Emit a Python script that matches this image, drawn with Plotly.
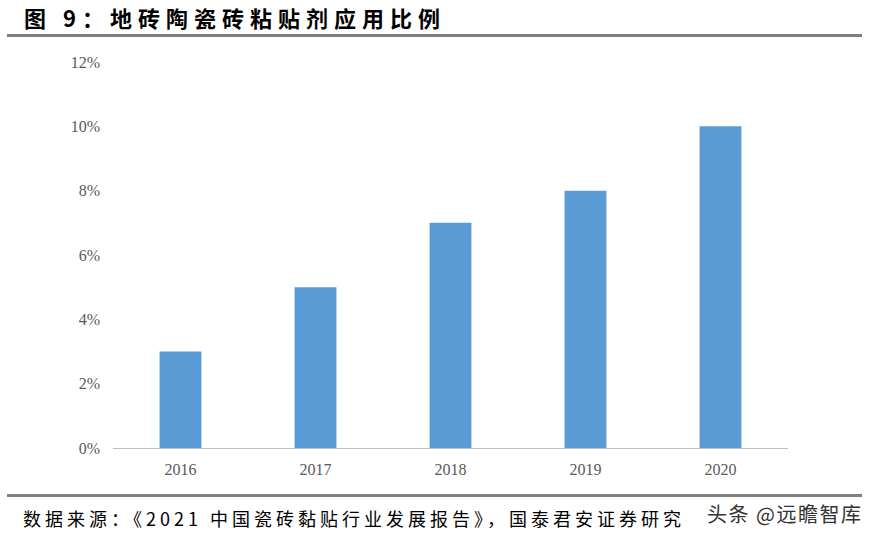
import plotly.graph_objects as go

years = ["2016", "2017", "2018", "2019", "2020"]
share_pct = [3, 5, 7, 8, 10]
y_ticks = [0, 2, 4, 6, 8, 10, 12]

title_text = "图 9：地砖陶瓷砖粘贴剂应用比例"
source_text = "数据来源：《2021 中国瓷砖黏贴行业发展报告》，国泰君安证券研究"
watermark_text = "头条 @远瞻智库"

W, H = 877, 541
# plot area in pixel coords
PL, PT, PR, PB = 113, 62, 788, 448
pw, ph = PR - PL, PB - PT
L, T = PL, PT
R = W - L - pw
B = H - T - ph


def px(x):
    return (x - PL) / pw


def py(y):
    return 1 - (y - PT) / ph


fig = go.Figure()
fig.add_trace(go.Bar(
    x=years, y=share_pct,
    marker=dict(color="#5B9BD5", line=dict(width=0)),
    width=0.31,
))

fig.update_layout(
    width=W, height=H,
    margin=dict(l=L, r=R, t=T, b=B),
    paper_bgcolor="white", plot_bgcolor="white",
    showlegend=False,
    font=dict(family="Liberation Serif", color="#595959", size=16),
    xaxis=dict(
        showline=True, linecolor="#BFBFBF", linewidth=1,
        ticks="", showgrid=False,
        ticklabelstandoff=7,
        tickfont=dict(family="Liberation Serif", size=16, color="#595959"),
    ),
    yaxis=dict(
        range=[0, 12], tickvals=y_ticks,
        ticktext=[f"{v}%" for v in y_ticks],
        showline=False, showgrid=False, zeroline=False, ticks="",
        ticklabelstandoff=12,
        tickfont=dict(family="Liberation Serif", size=16, color="#595959"),
    ),
)

shapes = [
    dict(type="line", xref="paper", yref="paper",
         x0=px(7), x1=px(862), y0=py(35.5), y1=py(35.5),
         line=dict(color="#808080", width=3)),
    dict(type="line", xref="paper", yref="paper",
         x0=px(7), x1=px(862), y0=py(495.5), y1=py(495.5),
         line=dict(color="#808080", width=3)),
]
fig.update_layout(shapes=shapes)

fig.add_annotation(
    text='<span style="letter-spacing:6px"><b>' + title_text + "</b></span>",
    xref="paper", yref="paper",
    x=px(22), y=py(16.5), xanchor="left", yanchor="middle",
    showarrow=False,
    font=dict(family="Noto Sans CJK SC", size=22, color="#000000"))
fig.add_annotation(
    text='<span style="letter-spacing:4px">' + source_text + "</span>",
    xref="paper", yref="paper",
    x=px(21), y=py(518), xanchor="left", yanchor="middle",
    showarrow=False,
    font=dict(family="Noto Sans CJK SC", size=18, color="#000000"))
fig.add_annotation(
    text='<span style="letter-spacing:1.5px">' + watermark_text + "</span>",
    xref="paper", yref="paper",
    x=px(864), y=py(513), xanchor="right", yanchor="middle",
    showarrow=False,
    font=dict(family="Noto Sans CJK SC", size=20, color="#333333"))

fig.write_html("out.html", config={"displayModeBar": False},
               post_script="document.body.style.margin='0px';")
